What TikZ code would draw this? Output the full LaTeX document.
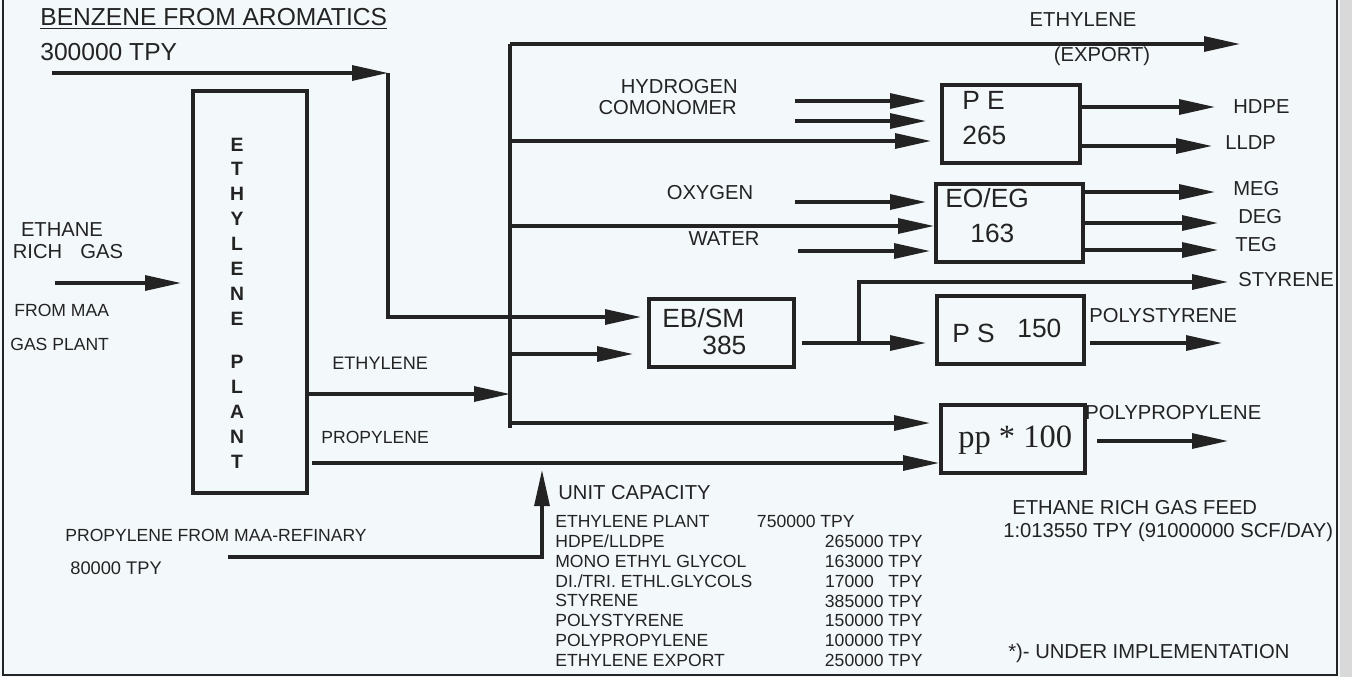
\documentclass[tikz,border=0pt]{standalone}
\usepackage{fontspec}
\setmainfont{Liberation Sans}
\newfontfamily\serifpp{Liberation Serif}
\usetikzlibrary{positioning, arrows.meta}
\definecolor{ink}{RGB}{35,35,35}
\definecolor{paper}{RGB}{243,248,250}
\tikzstyle{every node}=[font=\fontsize{11.5}{13}\selectfont, text=ink, inner sep=0pt]
\tikzstyle{block}=[draw=ink, line width=2.3pt, rectangle]
\tikzstyle{pipe}=[draw=ink, line width=1.8pt]
\tikzstyle{flow}=[pipe, ->]
\tikzstyle{boxtext}=[font=\fontsize{15}{17}\selectfont]
\tikzstyle{note}=[font=\fontsize{10}{12}\selectfont]
\tikzstyle{captext}=[font=\fontsize{10}{11.3}\selectfont]

\begin{document}
\begin{tikzpicture}[>={Triangle[length=0.72cm, width=0.3cm]}, x=0.02cm, y=-0.02cm]
            \fill[paper] (0,0) rectangle (1352,677);
            \useasboundingbox (0,0) rectangle (1352,677);
            \fill[black!15] (1340,0) rectangle (1352,677);
            \draw[ink, line width=1.2pt] (3,0) -- (3,675) -- (1337,675) -- (1337,0);

            % units
            \node[block, minimum width=2.28cm, minimum height=8.04cm] (plant) at (250,292) {};
            \node[font=\fontsize{11}{14.2}\selectfont\bfseries, align=center] (plantname) at (237,303) {E\\T\\H\\Y\\L\\E\\N\\E\\[10.2pt]P\\L\\A\\N\\T};
            \node[block, minimum width=2.9cm, minimum height=1.36cm] (ebsm) at (721.5,333) {};
            \node[boxtext, anchor=west] (ebsmname) at (662,318) {EB/SM};
            \node[boxtext, anchor=west] (ebsmcap) at (702,345) {385};
            \node[block, minimum width=2.76cm, minimum height=1.56cm] (pe) at (1011,124) {};
            \node[boxtext, anchor=west] (pename) at (962,100) {P E};
            \node[boxtext, anchor=west] (pecap) at (962,135) {265};
            \node[block, minimum width=2.94cm, minimum height=1.56cm] (eoeg) at (1009.5,223) {};
            \node[boxtext, anchor=west] (eoegname) at (945,198) {EO/EG};
            \node[boxtext, anchor=west] (eoegcap) at (970,233) {163};
            \node[block, minimum width=2.94cm, minimum height=1.36cm] (ps) at (1010.5,330) {};
            \node[boxtext, anchor=west] (psname) at (952,333) {P S};
            \node[boxtext, anchor=west] (pscap) at (1017,328) {150};
            \node[block, minimum width=2.88cm, minimum height=1.36cm] (pp) at (1013,439) {};
            \node[anchor=west, font=\serifpp\fontsize{18.5}{20}\selectfont] (ppname) at (958,440) {pp * 100};

            % benzene and ethane feeds
            \node[anchor=west, font=\fontsize{14}{16}\selectfont] (title) at (40,19) {\underline{BENZENE FROM AROMATICS}};
            \node[anchor=west, font=\fontsize{14}{16}\selectfont] (bztpy) at (40,52) {300000 TPY};
            \coordinate (bzin) at (52,73);
            \coordinate (bzturn) at (388,73);
            \coordinate (bzdown) at (388,317);
            \draw[flow] (bzin) -- (bzturn);
            \draw[flow, shorten >=0.12cm] (bzturn) -- (bzdown) -- (bzdown -| ebsm.west);
            \node (ethane) at (62,230) {ETHANE};
            \node (richgas) at (68,252) {RICH\hspace{0.9em}GAS};
            \node[note, anchor=west] (frommaa) at (14,310) {FROM MAA};
            \node[note, anchor=west] (gasplant) at (10,344) {GAS PLANT};
            \coordinate (ethanein) at (55,283);
            \draw[flow, shorten >=0.2cm] (ethanein) -- (ethanein -| plant.west);

            % ethylene header
            \coordinate (bustop) at (510,44);
            \coordinate (busbot) at (510,428);
            \draw[pipe] (bustop) -- (busbot);
            \coordinate (ethout) at (510,394);
            \draw[flow] (ethout -| plant.east) -- (ethout);
            \node[font=\fontsize{10.3}{12}\selectfont, anchor=west] (ethlbl) at (332,363) {ETHYLENE};
            \coordinate (exportend) at (1240,44);
            \draw[flow] (bustop) -- (exportend);
            \node (exportlbl) at (1083,20) {ETHYLENE};
            \node (exportnote) at (1102,56) {(EXPORT)};

            % PE
            \node[anchor=east] (hydrogen) at (738,87) {HYDROGEN};
            \node[anchor=east] (comonomer) at (737,108) {COMONOMER};
            \coordinate (h2in) at (795,101);
            \coordinate (comonin) at (795,121);
            \coordinate (pefeed) at (510,141);
            \draw[flow, shorten >=0.28cm] (h2in) -- (h2in -| pe.west);
            \draw[flow, shorten >=0.28cm] (comonin) -- (comonin -| pe.west);
            \draw[flow, shorten >=0.18cm] (pefeed) -- (pefeed -| pe.west);
            \coordinate (hdpeout) at (1215,107);
            \coordinate (lldpout) at (1212,146);
            \draw[flow] (hdpeout -| pe.east) -- (hdpeout);
            \draw[flow] (lldpout -| pe.east) -- (lldpout);
            \node[anchor=west] (hdpe) at (1233,107) {HDPE};
            \node[anchor=west] (lldp) at (1225,143) {LLDP};

            % EO/EG
            \node (oxygen) at (710,193) {OXYGEN};
            \node (water) at (724,239) {WATER};
            \coordinate (o2in) at (795,202);
            \coordinate (eofeed) at (510,226);
            \coordinate (waterin) at (798,251);
            \draw[flow, shorten >=0.16cm] (o2in) -- (o2in -| eoeg.west);
            \draw[flow] (eofeed) -- (eofeed -| eoeg.west);
            \draw[flow, shorten >=0.08cm] (waterin) -- (waterin -| eoeg.west);
            \coordinate (megout) at (1215,192);
            \coordinate (degout) at (1218,223);
            \coordinate (tegout) at (1218,250);
            \draw[flow] (megout -| eoeg.east) -- (megout);
            \draw[flow] (degout -| eoeg.east) -- (degout);
            \draw[flow] (tegout -| eoeg.east) -- (tegout);
            \node[anchor=west] (meg) at (1233,189) {MEG};
            \node[anchor=west] (deg) at (1238,217) {DEG};
            \node[anchor=west] (teg) at (1235,245) {TEG};

            % EB/SM and PS
            \coordinate (ebfeed) at (510,354);
            \draw[flow, shorten >=0.28cm] (ebfeed) -- (ebfeed -| ebsm.west);
            \coordinate (stsplit) at (859,343);
            \coordinate (stout) at (1228,282);
            \draw[flow, shorten <=0.12cm, shorten >=0.18cm] (stsplit -| ebsm.east) -- (stsplit -| ps.west);
            \draw[flow] (stsplit) |- (stout);
            \node[anchor=west] (styrene) at (1238,280) {STYRENE};
            \coordinate (psout) at (1222,343);
            \draw[flow, shorten <=0.08cm] (psout -| ps.east) -- (psout);
            \node[anchor=west] (polystyrene) at (1089,316) {POLYSTYRENE};

            % PP
            \coordinate (ppfeed) at (510,423);
            \draw[flow, shorten >=0.18cm] (ppfeed) -- (ppfeed -| pp.west);
            \coordinate (propout) at (312,463);
            \draw[flow] (propout) -- (propout -| pp.west);
            \node[note, anchor=west] (proplbl) at (321,437) {PROPYLENE};
            \coordinate (ppout) at (1228,441);
            \draw[flow, shorten <=0.2cm] (ppout -| pp.east) -- (ppout);
            \node[anchor=west] (polypropylene) at (1085,413) {POLYPROPYLENE};

            % refinery propylene
            \node[note, anchor=west] (refinary) at (65,535) {PROPYLENE FROM MAA-REFINARY};
            \node[font=\fontsize{10.4}{12}\selectfont, anchor=west] (reftpy) at (70,568) {80000 TPY};
            \coordinate (refin) at (228,557);
            \coordinate (refturn) at (542,557);
            \coordinate (refup) at (542,470);
            \draw[flow] (refin) -- (refturn) -- (refup);

            % capacities
            \node[anchor=west] (unitcap) at (558,493) {UNIT CAPACITY};
            \node[captext, anchor=north west, align=left] (capnames) at (555,515) {ETHYLENE PLANT\\HDPE/LLDPE\\MONO ETHYL GLYCOL\\DI./TRI. ETHL.GLYCOLS\\STYRENE\\POLYSTYRENE\\POLYPROPYLENE\\ETHYLENE EXPORT};
            \node[captext, anchor=north east, align=right] (capvalues) at (923,515) {750000 TPY\hspace*{1.36cm}\\265000 TPY\\163000 TPY\\17000\hspace{0.83em}TPY\\385000 TPY\\150000 TPY\\100000 TPY\\250000 TPY};
            \node[anchor=west] (feedlbl) at (1012,508) {ETHANE RICH GAS FEED};
            \node[anchor=west] (feedrate) at (1003,532) {1:013550 TPY (91000000 SCF/DAY)};
            \node[anchor=west] (implnote) at (1008,653) {*)- UNDER IMPLEMENTATION};
        \end{tikzpicture}
\end{document}
